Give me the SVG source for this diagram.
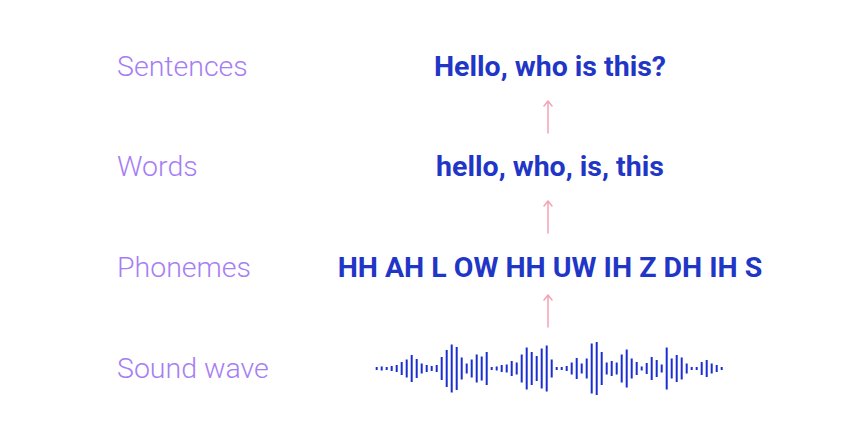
<svg xmlns="http://www.w3.org/2000/svg" width="850" height="446" viewBox="0 0 850 446">
<style>
.lbl{font-family:Roboto,"Liberation Sans",sans-serif;font-weight:300;font-size:28.5px;fill:#a67ef4}
.main{font-family:Roboto,"Liberation Sans",sans-serif;font-weight:700;font-size:28.5px;fill:#1f36c6;text-anchor:middle}
.arr{stroke:#f4a3b6;stroke-width:1.5;fill:none;stroke-linecap:round;stroke-linejoin:round}
.bar{stroke:#1a2fd0;stroke-width:2}
</style>
<rect width="850" height="446" fill="#ffffff"/>
<g id="label-sentences"><text class="lbl" x="117" y="76">Sentences</text></g>
<g id="label-words"><text class="lbl" x="117" y="176">Words</text></g>
<g id="label-phonemes"><text class="lbl" x="117" y="277">Phonemes</text></g>
<g id="label-soundwave"><text class="lbl" x="117" y="378">Sound wave</text></g>
<g id="node-sentence"><text class="main" x="550" y="76">Hello, who is this?</text></g>
<g id="node-words"><text class="main" x="550" y="176">hello, who, is, this</text></g>
<g id="node-phonemes"><text class="main" x="550" y="277">HH AH L OW HH UW IH Z DH IH S</text></g>
<g id="connectors">
<path class="arr" d="M548 133V101M544 106L548 101L552 106"/>
<path class="arr" d="M548 233V201M544 206L548 201L552 206"/>
<path class="arr" d="M548 327V295M544 300L548 295L552 300"/>
</g>
<g id="node-soundwave" class="bar" transform="translate(0 368.5)">
<path d="M376.7 -1.5v3M381.7 -2v4M386.7 -1.5v3M391.7 -2.5v5M396.7 -3.5v7M401.7 -6.5v13M406.7 -9v18M411.7 -13.5v27M416.7 -9.5v19M421.7 -5v10M426.7 -3.5v7M431.7 -2.5v5M436.7 -3.5v7M441.7 -11.5v23M446.7 -18.5v37M451.7 -24v48M456.7 -21.5v43M461.7 -11v22M466.7 -5v10M471.7 -9v18M476.7 -14v28M481.7 -12v24M486.7 -16.5v33M491.7 -1.5v3M496.7 -2v4M501.7 -3.5v7M506.7 -4v8M511.7 -7.5v15M516.7 -6v12M521.7 -14v28M526.7 -21v42M531.7 -16.5v33M536.7 -12.5v25M541.7 -20v40M546.7 -23v46M551.7 -9v18M556.7 -1.5v3M561.7 -1.5v3M566.7 -2.5v5M571.7 -6v12M576.7 -10.5v21M581.7 -5v10M586.7 -10v20M591.7 -25v50M596.7 -26.5v53M601.7 -16.5v33M606.7 -6v12M611.7 -7.5v15M616.7 -6v12M621.7 -14v28M626.7 -19v38M631.7 -10v20M636.7 -6.5v13M641.7 -2v4M646.7 -5.5v11M651.7 -11.5v23M656.7 -8.5v17M661.7 -4v8M666.7 -21v42M671.7 -10v20M676.7 -13.5v27M681.7 -11v22M686.7 -5v10M691.7 -1.5v3M696.7 -1.5v3M701.7 -6.5v13M706.7 -8.5v17M711.7 -5v10M716.7 -3.5v7M721.7 -1.5v3"/>
</g>
</svg>
